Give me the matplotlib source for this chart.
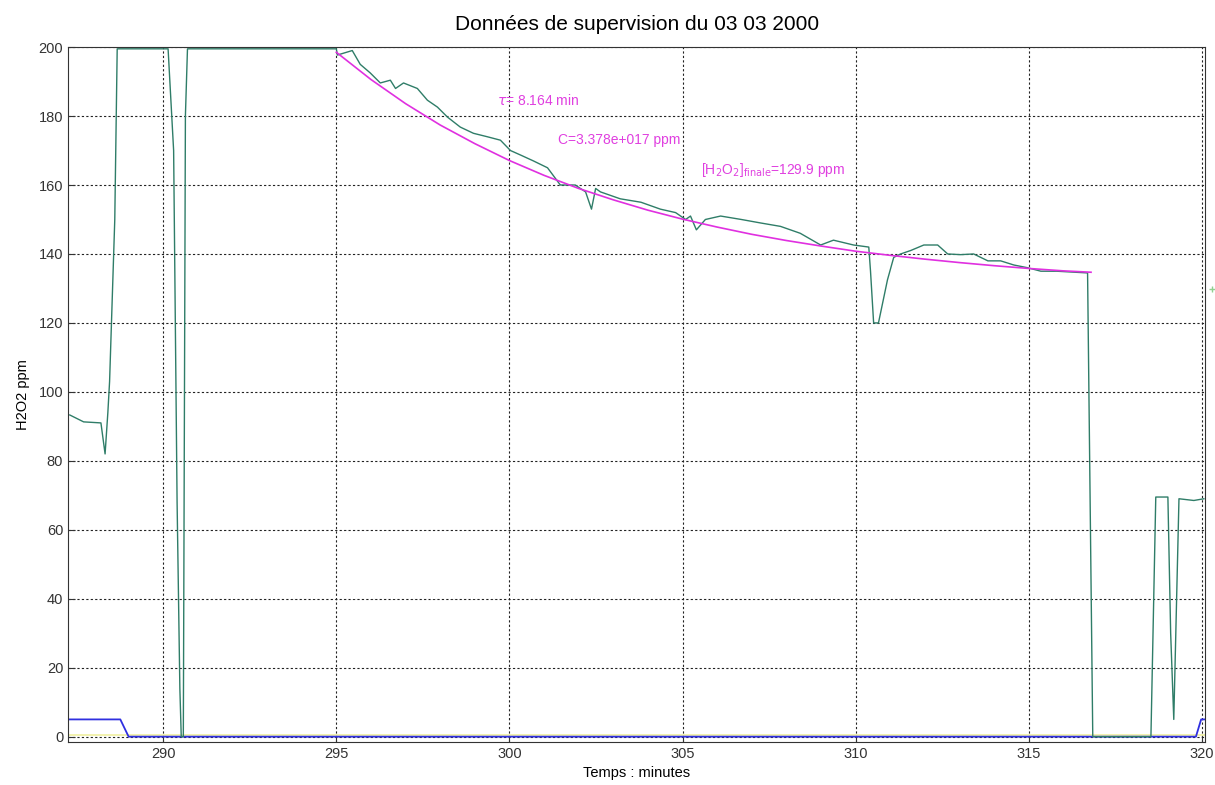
import matplotlib
matplotlib.use("Agg")
import matplotlib.pyplot as plt

plt.rcParams['font.family'] = ['Liberation Sans', 'DejaVu Sans']

t_mes = [287.3, 287.7, 288.2, 288.32, 288.4, 288.45, 288.6, 288.67,
         290.14, 290.3, 290.4, 290.48, 290.52, 290.58, 290.6, 290.64, 290.7,
         295.0, 295.03, 295.46, 295.69, 295.98, 296.27, 296.56, 296.71, 296.94,
         297.34, 297.63, 297.92, 298.21, 298.58, 298.96, 299.36, 299.74, 300.03,
         300.32, 300.69, 301.1, 301.47, 301.9, 302.2, 302.37, 302.49, 302.63,
         303.2, 303.8, 304.36, 304.8, 305.09, 305.23, 305.4, 305.66, 306.1,
         306.7, 307.25, 307.83, 308.4, 308.99, 309.36, 309.94, 310.38, 310.43,
         310.52, 310.66, 310.92, 311.1, 311.3, 311.59, 311.97, 312.37, 312.66,
         313.03, 313.41, 313.82, 314.19, 314.57, 314.97, 315.35, 315.8, 316.7,
         316.85, 318.53, 318.67, 319.02, 319.1, 319.19, 319.34, 319.77, 320.06]
h2o2_mes = [93.3, 91.3, 91, 82, 94, 103, 150, 199.5,
            199.5, 170, 68, 14, 0, 0, 60, 180, 199.5,
            199.5, 197.7, 199, 195, 192.5, 189.6, 190.4, 188, 189.6,
            188, 184.6, 182.6, 179.7, 176.8, 175, 174, 173, 170,
            168.7, 167, 165, 160, 160, 158, 153, 159, 158,
            156, 155, 153, 152, 150, 151, 147, 150, 151,
            150, 149, 148, 146, 142.6, 144, 142.6, 142, 135,
            120, 120, 132.5, 139, 140, 141, 142.6, 142.6, 140,
            139.8, 140, 138, 138, 136.8, 136, 135, 135, 134.5,
            0, 0, 69.5, 69.5, 30, 5, 69, 68.5, 69]

# courbe d'ajustement exponentielle (magenta)
t_fit = [295, 296, 297, 298, 299, 300, 301, 302, 303, 304, 305, 306,
         307, 308, 309, 310, 311, 312, 313, 314, 315, 316, 316.8]
h2o2_fit = [198.5, 190.6, 183.6, 177.4, 172.0, 167.1, 162.8, 159.0, 155.7,
            152.7, 150.1, 147.8, 145.7, 143.9, 142.3, 140.8, 139.6, 138.5,
            137.5, 136.6, 135.8, 135.1, 134.7]

# signal bleu (consigne)
t_cons = [287.25, 288.76, 289.0, 319.83, 319.98, 320.1]
cons = [5, 5, 0, 0, 5, 5]

t_final = 320.3
h2o2_final = 129.9

fig = plt.figure(figsize=(12.15, 7.85), dpi=100)
ax = fig.add_axes([0.056, 0.055, 0.936, 0.885])

ax.plot([287.25, 320.1], [0.6, 0.6], color='#f0f0a0', lw=1.2)
ax.plot(t_cons, cons, color='#3030e0', lw=1.3)
ax.plot(t_mes, h2o2_mes, color='#2f7d68', lw=1.0)
ax.plot(t_fit, h2o2_fit, color='#e030e0', lw=1.2)
ax.plot([t_final], [h2o2_final], marker='+', color='#90d090', ms=5, clip_on=False)

ax.text(299.65, 184.6, r'$\tau$= 8.164 min', color='#e040e0', fontsize=10, va='center')
ax.text(301.39, 173, 'C=3.378e+017 ppm', color='#e040e0', fontsize=10, va='center')
ax.text(305.52, 164.3, r'[H$_2$O$_2$]$_{\rm finale}$=129.9 ppm', color='#e040e0',
        fontsize=10, va='center')

ax.set_xlim(287.25, 320.1)
ax.set_ylim(-1.5, 200)
ax.set_xticks(range(290, 321, 5))
ax.set_yticks(range(0, 201, 20))
ax.tick_params(direction='in', labelsize=10.5, colors='#333333', length=5)
ax.grid(True, linestyle=(0, (2, 2)), color='#222222', lw=0.8)
for s in ax.spines.values():
    s.set_color('#333333')

ax.set_title('Données de supervision du 03 03 2000', fontsize=15, pad=12)
ax.set_xlabel('Temps : minutes', fontsize=10.5, labelpad=4)
ax.set_ylabel('H2O2 ppm', fontsize=10.5, labelpad=6)

fig.savefig('out.png', dpi=100)
